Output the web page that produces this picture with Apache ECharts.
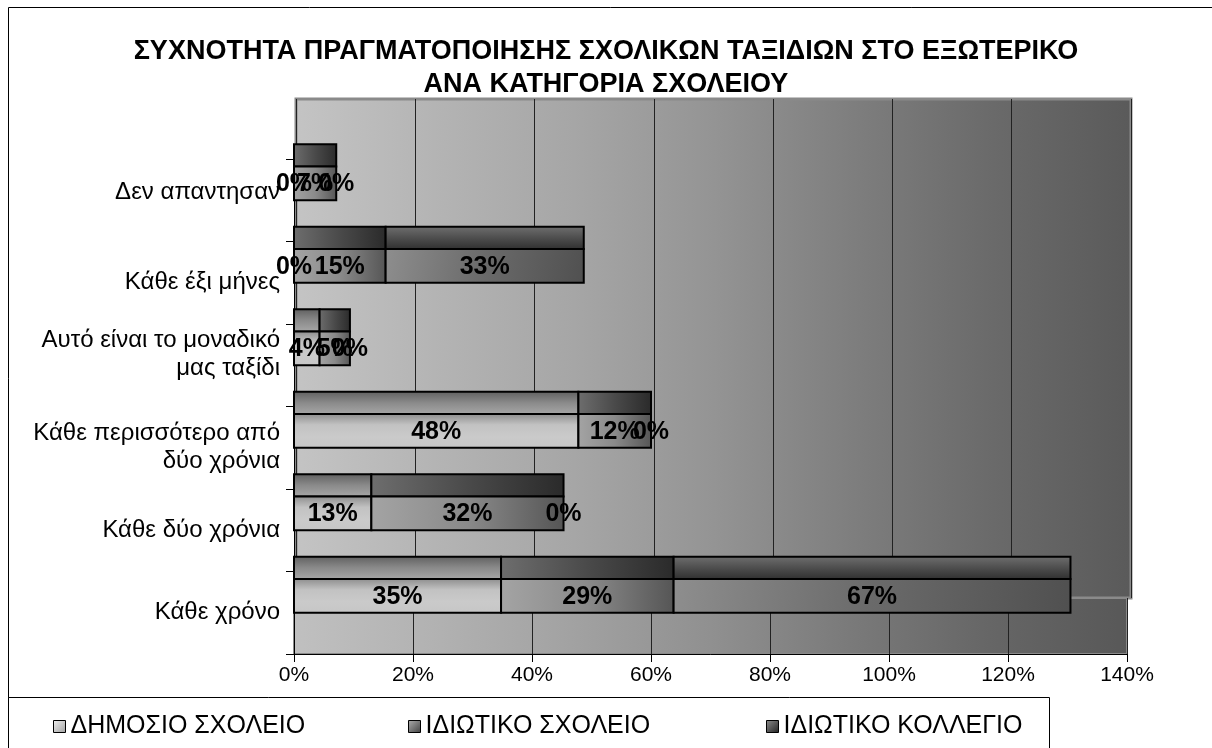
<!DOCTYPE html>
<html><head><meta charset="utf-8">
<script src="https://cdn.jsdelivr.net/npm/echarts@6/dist/echarts.min.js"></script>
<style>html,body{margin:0;padding:0;background:#fff}#c{width:1212px;height:748px}</style>
</head><body><div id="c"></div>
<script>
// ---- data ----
const categories = ['Κάθε χρόνο', 'Κάθε δύο χρόνια', 'Κάθε περισσότερο από\nδύο χρόνια', 'Αυτό είναι το μοναδικό\nμας ταξίδι', 'Κάθε έξι μήνες', 'Δεν απαντησαν'];
const seriesNames = ['ΔΗΜΟΣΙΟ ΣΧΟΛΕΙΟ', 'ΙΔΙΩΤΙΚΟ ΣΧΟΛΕΙΟ', 'ΙΔΙΩΤΙΚΟ ΚΟΛΛΕΓΙΟ'];
const dimosio = [34.8, 13.0, 47.8, 4.3, 0, 0];
const idiotiko = [29.0, 32.3, 12.2, 5.1, 15.4, 7.1];
const kollegio = [66.7, 0, 0, 0, 33.3, 0];
const xMin = 0, xMax = 140, xInterval = 20;
const titleText = 'ΣΥΧΝΟΤΗΤΑ ΠΡΑΓΜΑΤΟΠΟΙΗΣΗΣ ΣΧΟΛΙΚΩΝ ΤΑΞΙΔΙΩΝ ΣΤΟ ΕΞΩΤΕΡΙΚΟ\nΑΝΑ ΚΑΤΗΓΟΡΙΑ ΣΧΟΛΕΙΟΥ';

const FONT = '"Liberation Sans", Arial, sans-serif';
function lg(x2, y2, stops) {
  return {type: 'linear', x: 0, y: 0, x2: x2, y2: y2, colorStops: stops.map((c, i) => ({offset: i / (stops.length - 1), color: c}))};
}
const frontFill = [
  lg(0, 1, ['#8a8a8a', '#c2c2c2', '#cacaca', '#c6c6c6']),
  lg(1, 0, ['#a4a4a4', '#8a8a8a', '#555555']),
  lg(1, 1, ['#8e8e8e', '#6a6a6a', '#505050'])
];
const topFill = [
  lg(0, 1, ['#5e5e5e', '#8a8a8a', '#a8a8a8']),
  lg(1, 0, ['#6e6e6e', '#4a4a4a', '#2a2a2a']),
  lg(0, 1, ['#707070', '#4e4e4e', '#2e2e2e'])
];
const legendFill = [
  lg(1, 1, ['#f0f0f0', '#a0a0a0']),
  lg(1, 1, ['#b0b0b0', '#404040']),
  lg(1, 1, ['#909090', '#202020'])
];
// extra spacer height (px) lifting some category labels (Excel 3D placement)
const labelLift = [0, 0, 0, 22, 0, 16];

const allValues = [dimosio, idiotiko, kollegio];
const starts = allValues.map((vals, s) => vals.map((v, i) => {
  let acc = 0; for (let k = 0; k < s; k++) acc += allValues[k][i]; return acc;
}));

function geom(api) {
  const cat = api.value(0);
  const p0 = api.coord([api.value(1), cat]);
  const p1 = api.coord([api.value(2), cat]);
  const band = api.size([0, 1])[1];
  return {x0: p0[0], w: p1[0] - p0[0], yb: p0[1], fh: band * 0.41, th: band * 0.27};
}

const series = allValues.map((vals, s) => ({
  type: 'custom',
  name: seriesNames[s],
  xAxisIndex: 2, yAxisIndex: 2,
  z: 3,
  itemStyle: {color: legendFill[s], borderColor: '#000', borderWidth: 1},
  data: vals.map((v, i) => [i, starts[s][i], starts[s][i] + v, v]),
  encode: {x: [1, 2], y: 0},
  renderItem: function (params, api) {
    if (api.value(3) === 0) return {type: 'group', children: []};
    const g = geom(api);
    return {type: 'group', children: [
      {type: 'rect', shape: {x: g.x0, y: g.yb - g.fh - g.th, width: g.w, height: g.th},
        style: {fill: topFill[s], stroke: '#000', lineWidth: 2}},
      {type: 'rect', shape: {x: g.x0, y: g.yb - g.fh, width: g.w, height: g.fh},
        style: {fill: frontFill[s], stroke: '#000', lineWidth: 2}}
    ]};
  }
}));

const labelData = [];
allValues.forEach((vals, s) => vals.forEach((v, i) => labelData.push([i, starts[s][i], starts[s][i] + v, v])));
series.push({
  type: 'custom', name: 'labels', xAxisIndex: 2, yAxisIndex: 2, z: 6,
  data: labelData, encode: {x: [1, 2], y: 0}, silent: true,
  renderItem: function (params, api) {
    const g = geom(api);
    return {type: 'text', style: {text: Math.round(api.value(3)) + '%', x: g.x0 + g.w / 2, y: g.yb - g.fh / 2 + 1,
      align: 'center', verticalAlign: 'middle', font: 'bold 25px ' + FONT, fill: '#000'}};
  }
});

const wallFill = lg(1, 0, ['#c4c4c4', '#b4b4b4', '#a6a6a6', '#949494', '#7e7e7e', '#6a6a6a', '#5a5a5a']);
const floorFill = lg(1, 0, ['#c0c0c0', '#b2b2b2', '#a2a2a2', '#909090', '#7a7a7a', '#666666', '#585858']);

function bgAxis(gi) {
  return {type: 'value', gridIndex: gi, min: xMin, max: xMax, interval: xInterval,
    axisLine: {show: false}, axisTick: {show: false}, axisLabel: {show: false},
    splitLine: {show: true, lineStyle: {color: '#222', width: 1}}};
}

const yLabelBase = {fontFamily: FONT, fontSize: 24, color: '#000', lineHeight: 28};
const yRich = {t: Object.assign({}, yLabelBase)};
labelLift.forEach((p, i) => { yRich['e' + i] = {fontSize: 1, lineHeight: p, height: p}; });

const option = {
  animation: false,
  backgroundColor: '#fff',
  title: {text: titleText, left: 'center', top: 30,
    textStyle: {fontFamily: FONT, fontSize: 27, fontWeight: 'bold', color: '#000', lineHeight: 33}},
  graphic: [
    {type: 'rect', shape: {x: 8.5, y: 7.5, width: 1230, height: 800}, style: {fill: null, stroke: '#000', lineWidth: 1}, z: 0},
    {type: 'rect', shape: {x: 8.5, y: 697.5, width: 1041, height: 80}, style: {fill: '#fff', stroke: '#000', lineWidth: 1}, z: 0}
  ],
  grid: [
    {left: 296, right: 81, top: 99, bottom: 150, show: true, backgroundColor: wallFill, borderColor: '#8a8a8a', borderWidth: 3},
    {left: 294, right: 85, top: 598, bottom: 94, show: true, backgroundColor: floorFill, borderColor: '#8a8a8a', borderWidth: 2},
    {left: 294, right: 85, top: 159, bottom: 94}
  ],
  xAxis: [bgAxis(0), bgAxis(1), {
    type: 'value', gridIndex: 2, min: xMin, max: xMax, interval: xInterval,
    axisLine: {show: true, lineStyle: {color: '#000', width: 1}},
    axisTick: {show: true, length: 8, lineStyle: {color: '#000'}},
    axisLabel: {formatter: '{value}%', fontFamily: FONT, fontSize: 21, color: '#000', margin: 11},
    splitLine: {show: false}
  }],
  yAxis: [
    {type: 'value', gridIndex: 0, show: false},
    {type: 'value', gridIndex: 1, show: false},
    {type: 'category', gridIndex: 2, data: categories,
      axisLine: {show: true, lineStyle: {color: '#000', width: 1}},
      axisTick: {show: true, length: 8, lineStyle: {color: '#000'}},
      axisLabel: Object.assign({margin: 14, rich: yRich,
        formatter: function (val, idx) {
          let s = val.split('\n').map(l => '{t|' + l + '}').join('\n');
          if (labelLift[idx]) s += '\n{e' + idx + '| }';
          return s;
        }}, yLabelBase)}
  ],
  legend: seriesNames.map((n, i) => ({
    data: [{name: n, icon: 'rect', itemStyle: {color: legendFill[i], borderColor: '#000', borderWidth: 1}}],
    left: [48, 403, 761][i], top: 709, itemWidth: 12, itemHeight: 12, itemGap: 2,
    selectedMode: false,
    textStyle: {fontFamily: FONT, fontSize: 25, color: '#000', padding: [0, 0, 0, 0]}
  })),
  series: series
};
const chart = echarts.init(document.getElementById('c'), null, {renderer: 'canvas'});
chart.setOption(option);
</script>
</body></html>
